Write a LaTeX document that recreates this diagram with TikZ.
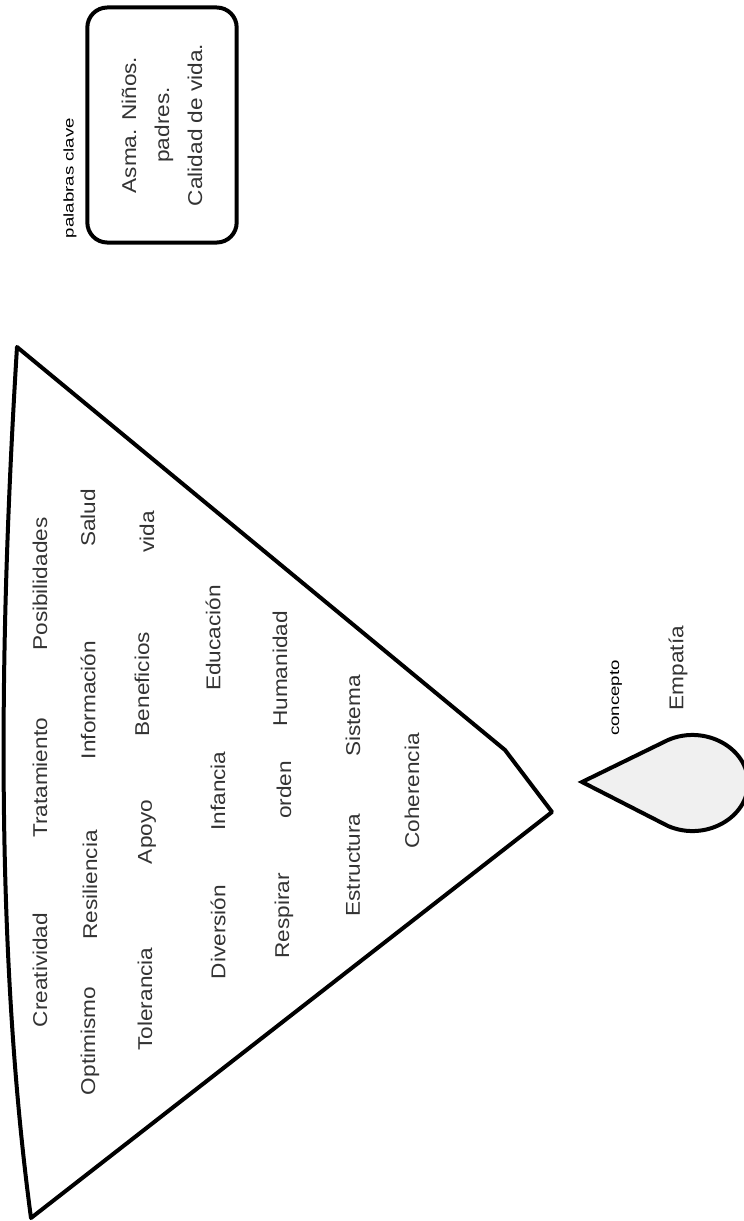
\documentclass[tikz,border=0pt]{standalone}
\usepackage{fontspec}
\setmainfont{Liberation Sans}
\usetikzlibrary{positioning}
\tikzset{
  every picture/.style={line width=3pt},
  word/.style={rotate=90, xscale=1.13, font=\fontsize{15}{18}\selectfont, text=black!80, inner sep=0pt},
  tag/.style={rotate=90, xscale=1.33, font=\fontsize{10.5}{12}\selectfont, inner sep=0pt},
  keybox/.style={rotate=90, xscale=1.13, draw, rounded corners=15pt, align=center,
    minimum width=156pt, minimum height=112pt, font=\fontsize{15}{24.75}\selectfont, text=black!80},
}
\begin{document}
\begin{tikzpicture}[x=0.75pt, y=-0.75pt]
  \useasboundingbox (0,0) rectangle (743,1221);
  % funnel
  \coordinate (top) at (17,347);
  \coordinate (bend) at (505,750);
  \coordinate (tip) at (552,812);
  \coordinate (foot) at (31,1218);
  \draw[line join=round] (top) -- (bend) -- (tip) -- (foot) .. controls (-5,950) and (-1,640) .. cycle;
  \foreach \n/\x/\y/\t in {
      1/40/584/Posibilidades, 2/40/778/Tratamiento, 3/40/970/Creatividad,
      4/88/518/Salud, 5/88/700/Información, 6/90/885/Resiliencia, 7/90/1041/Optimismo,
      8/147/532/vida, 9/142/684/Beneficios, 10/147/832/Apoyo, 11/145/999/Tolerancia,
      12/213/638/Educación, 13/218/791/Infancia, 14/218/932/Diversión,
      15/280/669/Humanidad, 16/284/790/orden, 17/284/916/Respirar,
      18/353/716/Sistema, 19/353/865/Estructura, 20/412/791/Coherencia}
    \node[word] (w\n) at (\x,\y) {\t};
  % drop
  \draw[fill=black!6] (582,782) -- (668,740) .. controls (705,724) and (748,748) .. (748,783)
    .. controls (748,818) and (705,842) .. (668,826) -- cycle;
  \node[tag] (conc) at (616,698) {concepto};
  \node[word] (emp) at (678,668) {Empatía};
  % keywords
  \node[keybox] (keys) at (162,125) {Asma. Niños.\\padres.\\Calidad de vida.};
  \node[tag] (keyslbl) at (70,178) {palabras clave};
\end{tikzpicture}
\end{document}
